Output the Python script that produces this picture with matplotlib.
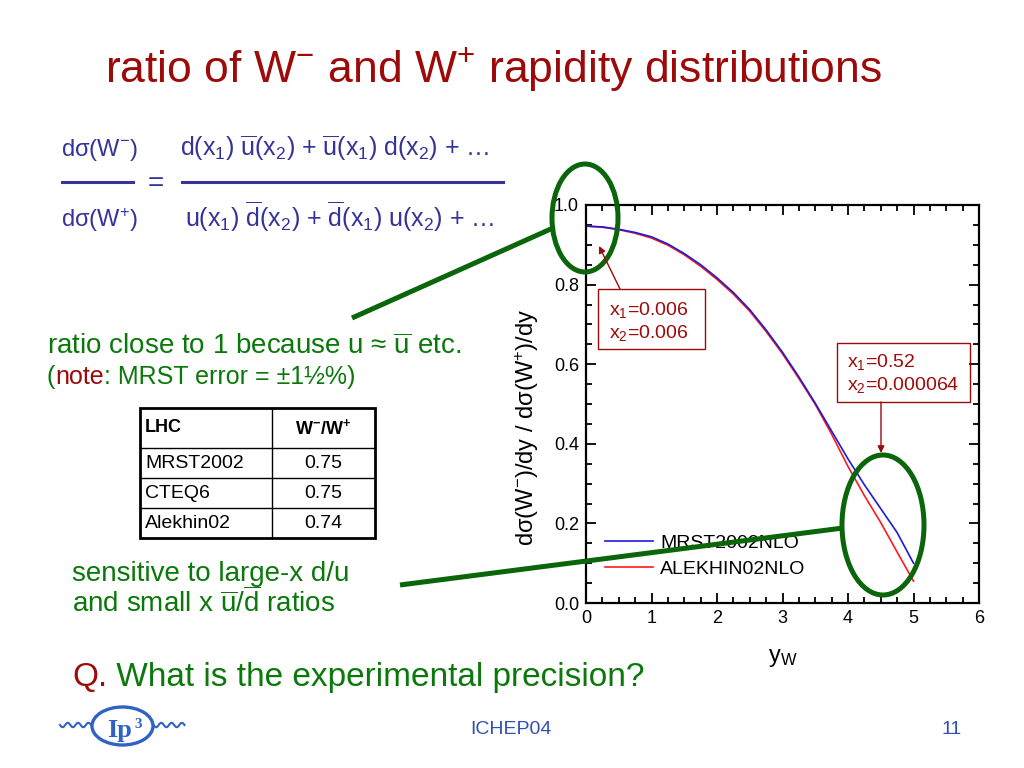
import numpy as np
import matplotlib.pyplot as plt
from matplotlib.patches import Ellipse, Rectangle
from matplotlib.ticker import MultipleLocator

plt.rcParams['font.family'] = ['Liberation Sans', 'DejaVu Sans']
plt.rcParams['mathtext.fontset'] = 'custom'
plt.rcParams['mathtext.rm'] = 'Liberation Sans'
plt.rcParams['mathtext.it'] = 'Liberation Sans:italic'
plt.rcParams['mathtext.bf'] = 'Liberation Sans:bold'
plt.rcParams['mathtext.sf'] = 'Liberation Sans'

# ratio dsigma(W-)/dy / dsigma(W+)/dy vs W rapidity
rapidity = [0.0, 0.25, 0.5, 0.75, 1.0, 1.25, 1.5, 1.75, 2.0, 2.25, 2.5,
            2.75, 3.0, 3.25, 3.5, 3.75, 4.0, 4.25, 4.5, 4.75, 5.0]
mrst = [0.947, 0.945, 0.939, 0.931, 0.920, 0.902, 0.878, 0.850, 0.817, 0.780, 0.737,
        0.686, 0.630, 0.568, 0.502, 0.432, 0.362, 0.297, 0.237, 0.177, 0.100]
alekhin = [0.947, 0.944, 0.938, 0.929, 0.917, 0.899, 0.875, 0.846, 0.813, 0.776, 0.733,
           0.682, 0.626, 0.564, 0.499, 0.424, 0.343, 0.270, 0.202, 0.128, 0.055]

# total W-/W+ ratio table
table_models = ['MRST2002', 'CTEQ6', 'Alekhin02']
table_ratios = ['0.75', '0.75', '0.74']

DARKRED = '#9C0A0A'
GREEN = '#0B780B'
ELL_GREEN = '#0B650B'
NAVY = '#33339A'
LOGO_BLUE = '#2F62C4'

W, H = 1024, 768
fig = plt.figure(figsize=(W / 100, H / 100), dpi=100)
fig.patch.set_facecolor('white')

# ---- the chart ----
ax = fig.add_axes([586 / W, 1 - 603 / H, 393 / W, 398 / H])
l_alek, = ax.plot(rapidity, alekhin, color='#FF1A1A', lw=1.2)
l_mrst, = ax.plot(rapidity, mrst, color='#1A1AE0', lw=1.2)
ax.set_xlim(0, 6)
ax.set_ylim(0, 1)
ax.xaxis.set_major_locator(MultipleLocator(1))
ax.xaxis.set_minor_locator(MultipleLocator(0.25))
ax.yaxis.set_major_locator(MultipleLocator(0.2))
ax.yaxis.set_minor_locator(MultipleLocator(0.05))
ax.yaxis.set_major_formatter('{x:.1f}')
ax.tick_params(which='both', direction='in', top=True, right=True, width=1.3,
               labelsize=13, pad=5)
ax.tick_params(which='major', length=7)
ax.tick_params(which='minor', length=4)
for s in ax.spines.values():
    s.set_linewidth(1.6)
ax.set_ylabel(r'dσ(W$^{-}$)/dy / dσ(W$^{+}$)/dy', fontsize=17)
ax.yaxis.set_label_coords(-0.115, 0.44)
ax.set_xlabel(r'y$_{\mathrm{W}}$', fontsize=17)
ax.xaxis.set_label_coords(0.5, -0.11)
ax.legend([l_mrst, l_alek], ['MRST2002NLO', 'ALEKHIN02NLO'], loc='lower left',
          bbox_to_anchor=(0.048, 0.063), frameon=False, fontsize=14,
          handlelength=2.5, handletextpad=0.35, labelspacing=0.45,
          borderpad=0, borderaxespad=0)

# ---- slide overlay in pixel coordinates ----
ov = fig.add_axes([0, 0, 1, 1], zorder=5)
ov.set_xlim(0, W)
ov.set_ylim(H, 0)
ov.set_axis_off()


def chain(x, y, parts, fontsize):
    # write text pieces one after another on a common baseline
    t = ov.text(x, y, parts[0][0], fontsize=fontsize, color=parts[0][1], va='baseline')
    for s, c in parts[1:]:
        t = ov.annotate(s, xy=(1, 0), xycoords=t, va='bottom', fontsize=fontsize,
                        color=c)
    return t


ov.text(105, 82, r'ratio of W$^{-}$ and W$^{+}$ rapidity distributions',
        fontsize=32, color=DARKRED, va='baseline')

# formula
fs = 18
ov.text(61, 156, r'dσ(W$^{-}$)', fontsize=fs - 1, color=NAVY, va='baseline')
ov.text(61, 227, r'dσ(W$^{+}$)', fontsize=fs - 1, color=NAVY, va='baseline')
ov.plot([62, 133], [182, 182], color=NAVY, lw=2.2)
ov.text(156, 191, '=', fontsize=fs + 2, color=NAVY, ha='center', va='baseline')
ov.plot([182, 503], [182, 182], color=NAVY, lw=2.2)
ov.text(180, 156, r'd(x$_1$) $\overline{\mathrm{u}}$(x$_2$) + $\overline{\mathrm{u}}$(x$_1$) d(x$_2$) + …',
        fontsize=fs, color=NAVY, va='baseline')
ov.text(185, 227, r'u(x$_1$) $\overline{\mathrm{d}}$(x$_2$) + $\overline{\mathrm{d}}$(x$_1$) u(x$_2$) + …',
        fontsize=fs, color=NAVY, va='baseline')

# green comments
ov.text(47, 354, r'ratio close to 1 because u ≈ $\overline{\mathrm{u}}$ etc.',
        fontsize=20, color=GREEN, va='baseline')
chain(47, 384, [('(', GREEN), ('note', DARKRED), (': MRST error = ±1½%)', GREEN)], 18)
ov.text(72, 581, 'sensitive to large-x d/u', fontsize=20, color=GREEN, va='baseline')
ov.text(72, 612, r'and small x $\overline{\mathrm{u}}$/$\overline{\mathrm{d}}$ ratios',
        fontsize=20, color=GREEN, va='baseline')
chain(72, 686, [('Q.', DARKRED), (' What is the experimental precision?', GREEN)], 24)

# table
tx0, tx1, tx2 = 140, 272, 375
row_y = [408, 448, 478, 508, 538]
ov.add_patch(Rectangle((tx0, row_y[0]), tx2 - tx0, row_y[-1] - row_y[0],
                       fill=False, lw=2.0, ec='black'))
ov.plot([tx1, tx1], [row_y[0], row_y[-1]], color='black', lw=1.0)
for yy in row_y[1:-1]:
    ov.plot([tx0, tx2], [yy, yy], color='black', lw=1.0)
ov.text(145, (row_y[0] + row_y[1]) / 2, 'LHC', fontsize=13, fontweight='bold',
        va='center')
ov.text((tx1 + tx2) / 2, (row_y[0] + row_y[1]) / 2, r'W$^{\mathbf{-}}$/W$^{\mathbf{+}}$',
        fontsize=13, fontweight='bold', ha='center', va='center')
for i, (m, r) in enumerate(zip(table_models, table_ratios)):
    yc = (row_y[i + 1] + row_y[i + 2]) / 2
    ov.text(145, yc, m, fontsize=14, va='center')
    ov.text((tx1 + tx2) / 2, yc, r, fontsize=14, ha='center', va='center')

# x1, x2 boxes and arrows on the chart
ov.add_patch(Rectangle((598, 289), 107, 60, fill=False, ec=DARKRED, lw=1.0))
ov.text(609, 315, r'x$_1$=0.006', fontsize=14, color=DARKRED, va='baseline')
ov.text(609, 338, r'x$_2$=0.006', fontsize=14, color=DARKRED, va='baseline')
ov.annotate('', xy=(599, 246), xytext=(620, 289),
            arrowprops=dict(arrowstyle='-|>', color=DARKRED, lw=1.0,
                            mutation_scale=10, shrinkA=0, shrinkB=0))
ov.add_patch(Rectangle((837, 343), 133, 59, fill=False, ec=DARKRED, lw=1.0))
ov.text(847, 367, r'x$_1$=0.52', fontsize=14, color=DARKRED, va='baseline')
ov.text(847, 390, r'x$_2$=0.000064', fontsize=14, color=DARKRED, va='baseline')
ov.annotate('', xy=(881, 453), xytext=(881, 402),
            arrowprops=dict(arrowstyle='-|>', color=DARKRED, lw=1.0,
                            mutation_scale=10, shrinkA=0, shrinkB=0))

# green ellipses and pointer lines
ov.add_patch(Ellipse((585, 218), 66, 108, fill=False, ec=ELL_GREEN, lw=3.6))
ov.add_patch(Ellipse((883, 525), 82, 140, fill=False, ec=ELL_GREEN, lw=3.6))
ov.plot([352, 553], [318, 228], color=ELL_GREEN, lw=3.6, solid_capstyle='butt')
ov.plot([400, 843], [585, 528], color=ELL_GREEN, lw=3.6, solid_capstyle='butt')

# footer
ov.text(511, 734, 'ICHEP04', fontsize=14, color='#3050B0', ha='center', va='baseline')
ov.text(952, 734, '11', fontsize=14, color='#3050B0', ha='center', va='baseline')

# IP3 logo
ov.add_patch(Ellipse((122.5, 726), 61, 38, fill=False, ec=LOGO_BLUE, lw=2.4))
wx = np.linspace(0, 1, 120)
wave = 2.2 * np.sin(wx * 2 * np.pi * 3)
ov.plot(60 + wx * 31, 725 + wave, color=LOGO_BLUE, lw=1.5)
ov.plot(153.5 + wx * 31, 725 + wave, color=LOGO_BLUE, lw=1.5)
ov.text(120, 731, 'Ip', fontsize=19, fontweight='bold', family='Liberation Serif',
        color=LOGO_BLUE, ha='center', va='center')
ov.text(138.5, 724, '3', fontsize=11, fontweight='bold', family='Liberation Serif',
        color=LOGO_BLUE, ha='center', va='center')

fig.savefig('out.png', dpi=100, facecolor='white')
